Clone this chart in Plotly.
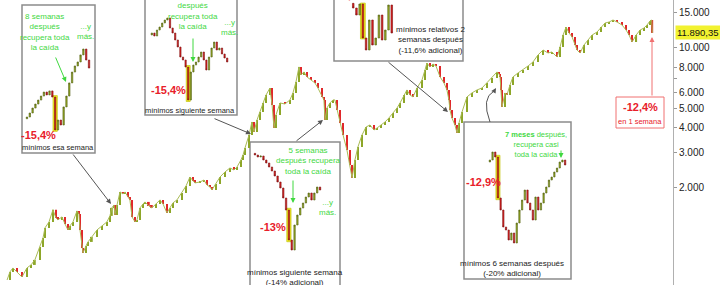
import math
import plotly.graph_objects as go

# ---------------- data ----------------
years = [1983.71, 1983.87, 1984.04, 1984.27, 1984.55, 1984.83, 1985.06, 1985.28, 1985.57, 1985.74,
         1985.85, 1986.08, 1986.30, 1986.47, 1986.58, 1986.81, 1986.98, 1987.15, 1987.26, 1987.43,
         1987.66, 1987.77, 1987.83, 1987.94, 1988.00, 1988.17, 1988.28, 1988.50, 1988.79, 1989.07,
         1989.35, 1989.52, 1989.63, 1989.75, 1989.80, 1989.92, 1990.09, 1990.26, 1990.37, 1990.54,
         1990.65, 1990.77, 1990.94, 1991.05, 1991.22, 1991.39, 1991.50, 1991.72, 1991.89, 1992.12,
         1992.35, 1992.52, 1992.74, 1992.91, 1993.08, 1993.31, 1993.59, 1993.82, 1994.04, 1994.21,
         1994.32, 1994.61, 1994.83, 1995.00, 1995.17, 1995.28, 1995.51, 1995.74, 1996.02, 1996.30,
         1996.53, 1996.70, 1996.92, 1997.04, 1997.15, 1997.38, 1997.54, 1997.66, 1997.83, 1998.00,
         1998.17, 1998.34, 1998.56, 1998.68, 1998.79, 1998.90, 1999.13, 1999.41, 1999.69, 1999.86,
         2000.03, 2000.20, 2000.31, 2000.48, 2000.65, 2000.88, 2001.10, 2001.27, 2001.50, 2001.61,
         2001.67, 2001.78, 2001.95, 2002.12, 2002.23, 2002.35, 2002.52, 2002.69, 2002.91, 2003.08,
         2003.20, 2003.36, 2003.53, 2003.76, 2003.99, 2004.21, 2004.44, 2004.61, 2004.83, 2005.06,
         2005.28, 2005.51, 2005.74, 2005.91, 2006.13, 2006.30, 2006.47, 2006.64, 2006.87, 2007.15,
         2007.32, 2007.43, 2007.60, 2007.77, 2007.94, 2008.17, 2008.39, 2008.56, 2008.67, 2008.73,
         2008.84, 2009.01, 2009.13, 2009.24, 2009.41, 2009.69, 2009.97, 2010.26, 2010.54, 2010.82,
         2011.10, 2011.39, 2011.50, 2011.56, 2011.61, 2011.67, 2011.84, 2011.95, 2012.12, 2012.29,
         2012.57, 2012.85, 2013.14, 2013.42, 2013.70, 2013.99, 2014.27, 2014.49, 2014.78, 2014.95,
         2015.12, 2015.29, 2015.46, 2015.63, 2015.79, 2015.91, 2016.08, 2016.30, 2016.53, 2016.76,
         2017.04, 2017.27, 2017.49, 2017.72, 2017.94, 2018.17, 2018.45, 2018.68, 2018.85, 2019.02,
         2019.25, 2019.47, 2019.69, 2019.86, 2020.03, 2020.13, 2020.16]
closes = [694, 761, 797, 761, 718, 797, 825, 874, 1015, 1125,
          1263, 1353, 1554, 1417, 1385, 1433, 1322, 1234, 1292, 1353,
          1536, 1484, 1234, 1003, 947, 1027, 1075, 1139, 1234, 1292,
          1353, 1450, 1590, 1644, 1467, 1644, 1910, 1866, 1910, 1803,
          1743, 1433, 1353, 1385, 1590, 1663, 1703, 1625, 1590, 1663,
          1743, 1663, 1501, 1590, 1684, 1743, 1888, 2046, 2268, 2167,
          2118, 2142, 2191, 2069, 2022, 1954, 2093, 2268, 2403, 2516,
          2459, 2545, 2758, 2922, 3166, 3676, 4270, 3805, 4370, 4790,
          5313, 5823, 6310, 5190, 3985, 4628, 5313, 5250, 5501, 5963,
          6761, 8043, 7328, 7595, 7170, 6927, 6691, 6310, 5694, 5501,
          4370, 5016, 5313, 5501, 5501, 4902, 4221, 3676, 3094, 2604,
          2242, 2758, 3202, 3676, 4030, 4125, 3894, 3985, 4125, 4270,
          4471, 4734, 5016, 5313, 5823, 6172, 5823, 5694, 6310, 6927,
          7770, 8412, 8043, 8316, 8126, 7170, 6691, 6172, 5501, 4902,
          4471, 4125, 3761, 4221, 4790, 5694, 5963, 6172, 6310, 6691,
          7079, 7595, 7413, 7170, 6172, 5074, 5963, 5823, 6531, 7170,
          7497, 7770, 8126, 8510, 9222, 9768, 9437, 9546, 9013, 10111,
          11606, 12725, 11874, 11342, 10344, 9768, 9437, 10344, 10957, 11606,
          12012, 12725, 13324, 13477, 13793, 13477, 13021, 12292, 11606, 10708,
          11606, 12292, 12575, 13021, 13633, 13793, 11890.35]
event_years = [1989.80, 1997.66, 2001.67, 2008.73, 2011.61, 2020.16]
last_close = 11890.35

tick_values = [2000, 3000, 4000, 5000, 6000, 7000, 8000, 10000, 15000]
tick_labels = ["2.000", "3.000", "4.000", "5.000", "6.000", "", "8.000", "10.000", "15.000"]

# mini charts (weekly closes)
inset_a_open = 1470
inset_a = [1481, 1506, 1537, 1562, 1587, 1612, 1637, 1619, 1644, 1606, 1400, 1462, 1431, 1544,
           1612, 1694, 1762, 1800, 1825, 1869, 1906, 1837, 1787]
inset_b_open = 4300
inset_b = [4320, 4290, 4350, 4380, 4420, 4450, 4470, 4370, 4320, 4250, 4180, 4080, 4050, 3980,
           3650, 3930, 4000, 4030, 4080, 4130, 4050, 3950, 4080, 4170, 4230, 4150, 4170, 4110,
           4070, 4030]
inset_c_open = 5100
inset_c = [5075, 5045, 5060, 5000, 4955, 4895, 4835, 4760, 4670, 4580, 4430, 4250, 3800, 3650,
           4025, 4175, 4280, 4355, 4445, 4505, 4400, 4505, 4595, 4550]
inset_d_open = 5800
inset_d = [5660, 5450, 5780, 4760, 4400, 5300, 4550, 4760, 5450, 4700, 5000, 5750, 4910]
inset_e_open = 6950
inset_e = [7000, 7200, 7075, 6050, 5750, 5325, 5250, 5000, 5175, 4925, 5425, 5750, 6000, 6250,
           5925, 5750, 5500, 6075, 5750, 5925, 6175, 6325, 6500, 6575, 6700, 6800, 6950, 7000,
           6875]

# ---------------- style / layout helpers ----------------
PW, PH = 673.0, 285.0
FONT = "Liberation Sans, Arial, sans-serif"
GREEN = "#3fd83f"
RED = "#e8202a"
DARK = "#222222"
UP = "#8da628"
DOWN = "#e0282b"
YELLOW = "#f2f21c"


def px(x, y):
    return x / PW, 1 - y / PH


fig = go.Figure()
shapes = []
annotations = []

# ---- main series: candle bodies from previous close to close ----
opens = [closes[0]] + closes[:-1]
bar_colors = [UP if c >= o else DOWN for o, c in zip(opens, closes)]
fig.add_trace(go.Scatter(x=years, y=closes, mode="lines",
                         line=dict(color="#a9bb55", width=1), hoverinfo="skip"))
fig.add_trace(go.Bar(x=years, y=[c - o for o, c in zip(opens, closes)], base=opens,
                     width=0.1, marker=dict(color=bar_colors, line=dict(width=0))))

for ev in event_years:
    i = years.index(ev)
    lo, hi = min(opens[i], closes[i]), max(opens[i], closes[i])
    shapes.append(dict(type="rect", xref="x", yref="y", x0=ev - 0.14, x1=ev + 0.14,
                       y0=math.log10(lo) - 0.006, y1=math.log10(hi) + 0.006,
                       fillcolor=YELLOW, line=dict(width=0), layer="below"))

# ---- boxes ----
boxes = [(22, 5, 95, 153), (145, -6, 237, 115), (250, 142, 340, 292),
         (334, -6, 463, 61), (464, 122, 571, 279)]
for x0, y0, x1, y1 in boxes:
    a, b = px(x0, y0)
    c, d = px(x1, y1)
    shapes.append(dict(type="rect", xref="paper", yref="paper", x0=a, y0=d, x1=c, y1=b,
                       fillcolor="white", line=dict(color="#8c8c8c", width=1.5), layer="below"))
a, b = px(616, 97)
c, d = px(664, 128)
shapes.append(dict(type="rect", xref="paper", yref="paper", x0=a, y0=d, x1=c, y1=b,
                   fillcolor="white", line=dict(color="#f07070", width=1), layer="below"))

# ---- insets ----
layout_axes = {}
insets = [
    (2, inset_a, inset_a_open, (25, 91), (45, 137), (1356, 1931), 10),
    (3, inset_b, inset_b_open, (150, 229), (10, 108), (3570, 4550), 14),
    (4, inset_c, inset_c_open, (253, 322), (148, 262), (3470, 5180), 12),
    (5, inset_d, inset_d_open, (351, 394), (0, 60), (4100, 5900), 3),
    (6, inset_e, inset_e_open, (488, 567), (140, 252), (4700, 7500), 3),
]
for n, cl, op0, dx, dy, yr, ev in insets:
    op = [op0] + cl[:-1]
    hi = [max(o, c) for o, c in zip(op, cl)]
    lo = [min(o, c) for o, c in zip(op, cl)]
    xs = list(range(len(cl)))
    fig.add_trace(go.Candlestick(
        x=xs, open=op, high=hi, low=lo, close=cl, xaxis=f"x{n}", yaxis=f"y{n}",
        whiskerwidth=0,
        increasing=dict(fillcolor="#9aae22", line=dict(color="#4f5c10", width=0.6)),
        decreasing=dict(fillcolor="#e02020", line=dict(color="#7a1010", width=0.6)),
        hoverinfo="skip"))
    layout_axes[f"xaxis{n}"] = dict(domain=[dx[0] / PW, dx[1] / PW], range=[-0.7, len(cl) - 0.3],
                                    visible=False, anchor=f"y{n}", rangeslider=dict(visible=False))
    layout_axes[f"yaxis{n}"] = dict(domain=[1 - dy[1] / PH, 1 - dy[0] / PH], range=list(yr),
                                    visible=False, anchor=f"x{n}")
    span = (yr[1] - yr[0]) * 0.015
    shapes.append(dict(type="rect", xref=f"x{n}", yref=f"y{n}", x0=ev - 0.75, x1=ev + 0.75,
                       y0=lo[ev] - span, y1=hi[ev] + span, fillcolor=YELLOW,
                       line=dict(color="#c8c820", width=0.8), layer="below"))

# ---- texts ----
texts = [
    (45, 32, "8 semanas<br>después<br>recupera toda<br>la caída", GREEN, 8),
    (85, 31, "...y<br>más.", GREEN, 8),
    (38, 135, "<b>-15,4%</b>", RED, 11),
    (58, 147, "mínimos esa semana", DARK, 7.5),
    (193, 11, "4 semanas<br>después<br>recupera toda<br>la caída", GREEN, 8),
    (229, 28, "...y<br>más.", GREEN, 8),
    (168, 90, "<b>-15,4%</b>", RED, 11),
    (190, 110, "mínimos siguiente semana", DARK, 7.5),
    (308, 161, "5 semanas<br>después recupera<br>toda la caída", GREEN, 8),
    (327, 207, "...y<br>más.", GREEN, 8),
    (273, 227, "<b>-13%</b>", RED, 11),
    (295, 277, "mínimos siguiente semana<br>(-14% adicional)", DARK, 8),
    (431, 40, "mínimos relativos 2<br>semanas después<br>(-11,6% adicional)", DARK, 8),
    (349, -5, "<b>-21,6%</b>", RED, 11),
    (536, 144, "<b>7 meses</b> después,<br>recupera casi<br>toda la caída", GREEN, 7.5),
    (483, 182, "<b>-12,9%</b>", RED, 11),
    (512, 268, "mínimos 6 semanas después<br>(-20% adicional)", DARK, 8),
    (640, 107, "<b>-12,4%</b>", RED, 11),
    (640, 121, "en 1 semana", RED, 7.5),
]
for x, y, t, col, sz in texts:
    a, b = px(x, y)
    annotations.append(dict(x=a, y=b, xref="paper", yref="paper", text=t, showarrow=False,
                            xanchor="center", yanchor="middle",
                            font=dict(family=FONT, size=sz, color=col)))

# ---- arrows (head x, head y, tail x, tail y, colour) ----
arrows = [
    (111, 204, 72, 153, "#555555"), (251, 134, 213, 118, "#555555"),
    (323, 120, 295, 142, "#555555"), (448, 112, 387, 61, "#555555"),
    (66, 82, 55, 56, GREEN), (193, 62, 193, 37, GREEN), (293, 203, 293, 179, GREEN),
    (561, 158, 561, 149, GREEN), (652, 37, 652, 97, "#f07070"),
    (496, 88, 493, 93, "#555555"),
]
for hx, hy, tx, ty, col in arrows:
    a, b = px(hx, hy)
    annotations.append(dict(x=a, y=b, xref="paper", yref="paper", text="", showarrow=True,
                            ax=tx - hx, ay=ty - hy, arrowhead=2, arrowsize=1, arrowwidth=1,
                            arrowcolor=col, standoff=0))
p0 = px(490, 122)
p1 = px(481, 98)
p2 = px(494, 91)
shapes.append(dict(type="path", xref="paper", yref="paper",
                   path=f"M {p0[0]},{p0[1]} Q {p1[0]},{p1[1]} {p2[0]},{p2[1]}",
                   line=dict(color="#555555", width=1)))

# last value label
annotations.append(dict(x=1, y=math.log10(last_close), xref="paper", yref="y",
                        text="11.890,35", showarrow=False, xanchor="left", xshift=2,
                        yanchor="middle", bgcolor="#f2f230", borderpad=1,
                        font=dict(family=FONT, size=9.5, color="#111111")))

fig.update_layout(
    width=720, height=285, margin=dict(l=0, r=47, t=0, b=0),
    paper_bgcolor="white", plot_bgcolor="rgba(0,0,0,0)", showlegend=False,
    barmode="overlay", boxgap=0.3,
    xaxis=dict(range=[1983.31, 2021.33], visible=False, rangeslider=dict(visible=False)),
    yaxis=dict(type="log", range=[math.log10(655), math.log10(17360)], side="right",
               showgrid=False, zeroline=False, showline=True, linecolor="#b0b0b0", linewidth=1,
               ticks="outside", ticklen=3, tickcolor="#999999",
               tickvals=tick_values, ticktext=tick_labels,
               tickfont=dict(family=FONT, size=10, color="#222222")),
    shapes=shapes, annotations=annotations, **layout_axes,
)

fig.write_html("out.html")
